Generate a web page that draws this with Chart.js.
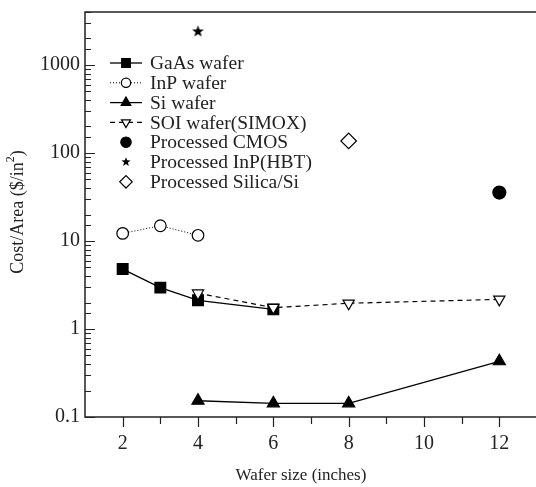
<!DOCTYPE html>
<html>
<head>
<meta charset="utf-8">
<script src="https://cdn.jsdelivr.net/npm/chart.js"></script>
<style>
  html, body { margin: 0; padding: 0; background: #fff; overflow: hidden; }
  #wrap { width: 546px; height: 487px; }
</style>
</head>
<body>
<div id="wrap"><canvas id="chart" width="546" height="487"></canvas></div>
<script>
// wafer size (inches) and cost per area ($/in^2)
const gaasSizes = [2, 3, 4, 6];
const gaasCost = [4.8, 2.95, 2.12, 1.67];
const inpSizes = [2, 3, 4];
const inpCost = [12.2, 14.9, 11.6];
const siSizes = [4, 6, 8, 12];
const siCost = [0.153, 0.143, 0.143, 0.43];
const soiSizes = [4, 6, 8, 12];
const soiCost = [2.55, 1.75, 1.96, 2.17];
const cmosSizes = [12];
const cmosCost = [35.5];
const hbtSizes = [4];
const hbtCost = [2400];
const silicaSizes = [8];
const silicaCost = [137];

const xTickLabels = [2, 4, 6, 8, 10, 12];
const yTickLabels = [0.1, 1, 10, 100, 1000];

const FONT = '"Liberation Serif", "DejaVu Serif", serif';
const INK = '#222';

const pts = (xs, ys) => xs.map((x, i) => ({ x: x, y: ys[i] }));

function makeStar(r) {
  const c = document.createElement('canvas');
  const s = Math.ceil(r * 2) + 2;
  c.width = c.height = s;
  const g = c.getContext('2d');
  g.fillStyle = '#000';
  g.beginPath();
  for (let i = 0; i < 10; i++) {
    const rr = i % 2 ? r * 0.42 : r;
    const a = -Math.PI / 2 + i * Math.PI / 5;
    g.lineTo(s / 2 + rr * Math.cos(a), s / 2 + rr * Math.sin(a));
  }
  g.closePath();
  g.fill();
  return c;
}
const star = makeStar(6.2);
const smallStar = makeStar(4.8);

const datasets = [
  { label: 'GaAs wafer', data: pts(gaasSizes, gaasCost), borderWidth: 1.3,
    pointStyle: 'rect', pointRadius: 7.6, pointBackgroundColor: '#000', order: 2 },
  { label: 'InP wafer', data: pts(inpSizes, inpCost), borderWidth: 1, borderDash: [1, 2],
    pointStyle: 'circle', pointRadius: 5.8, pointBackgroundColor: '#fff', order: 2 },
  { label: 'Si wafer', data: pts(siSizes, siCost), borderWidth: 1.3,
    pointStyle: 'triangle', pointRadius: 7, pointBackgroundColor: '#000', order: 2 },
  { label: 'SOI wafer(SIMOX)', data: pts(soiSizes, soiCost), borderWidth: 1.2, borderDash: [5, 4],
    pointStyle: 'triangle', pointRotation: 180, pointRadius: 6.5, pointBackgroundColor: '#fff', order: 1 },
  { label: 'Processed CMOS', data: pts(cmosSizes, cmosCost), showLine: false,
    pointStyle: 'circle', pointRadius: 6.5, pointBackgroundColor: '#000', order: 1 },
  { label: 'Processed InP(HBT)', data: pts(hbtSizes, hbtCost), showLine: false,
    pointStyle: star, pointRadius: 6, pointBackgroundColor: '#000', order: 1 },
  { label: 'Processed Silica/Si', data: pts(silicaSizes, silicaCost), showLine: false,
    pointStyle: 'rectRot', pointRadius: 7.8, pointBackgroundColor: '#fff', order: 1 }
].map(d => Object.assign({
  type: 'line', tension: 0, fill: false, borderColor: '#000',
  pointBorderColor: '#000', pointBorderWidth: 1.2, pointHoverRadius: d.pointRadius
}, d));

// legend markers are drawn a bit smaller than the plotted ones
function drawMarker(ctx, ds, x, y, k) {
  const r = ds.pointRadius * k;
  let st = ds.pointStyle;
  if (st instanceof HTMLCanvasElement) {
    st = smallStar;
    ctx.drawImage(st, x - st.width / 2, y - st.height / 2);
    return;
  }
  ctx.lineWidth = ds.pointBorderWidth;
  ctx.strokeStyle = '#000';
  ctx.fillStyle = ds.pointBackgroundColor;
  ctx.beginPath();
  if (st === 'rect') {
    const s = r * Math.SQRT1_2;
    ctx.rect(x - s, y - s, 2 * s, 2 * s);
  } else if (st === 'circle') {
    ctx.arc(x, y, r, 0, 2 * Math.PI);
  } else if (st === 'rectRot') {
    ctx.moveTo(x, y - r); ctx.lineTo(x + r, y); ctx.lineTo(x, y + r); ctx.lineTo(x - r, y);
    ctx.closePath();
  } else if (st === 'triangle') {
    const rot = (ds.pointRotation || 0) * Math.PI / 180;
    for (let j = 0; j < 3; j++) {
      const a = rot + j * 2 * Math.PI / 3;
      ctx.lineTo(x + Math.sin(a) * r, y - Math.cos(a) * r);
    }
    ctx.closePath();
  }
  ctx.fill();
  ctx.stroke();
}

const legendPlugin = {
  id: 'sketchLegend',
  afterDraw(chart) {
    const ctx = chart.ctx;
    const a = chart.chartArea;
    datasets.forEach((ds, i) => {
      const y = a.top + 51 + i * 19.8;
      const xl = a.left + 25;
      ctx.save();
      if (ds.showLine !== false) {
        ctx.strokeStyle = '#000';
        ctx.lineWidth = ds.borderWidth;
        ctx.setLineDash(ds.borderDash || []);
        ctx.beginPath();
        ctx.moveTo(xl, y); ctx.lineTo(xl + 32, y);
        ctx.stroke();
        ctx.setLineDash([]);
      }
      drawMarker(ctx, ds, xl + 16, y, 0.8);
      ctx.fillStyle = INK;
      ctx.font = '19.5px ' + FONT;
      ctx.textBaseline = 'middle';
      ctx.textAlign = 'left';
      ctx.fillText(ds.label, xl + 40, y + 1);
      ctx.restore();
    });
  }
};

const framePlugin = {
  id: 'frame',
  afterDraw(chart) {
    const { ctx, chartArea: a, scales: { x, y } } = chart;
    ctx.save();
    ctx.strokeStyle = INK;
    ctx.lineWidth = 1.5;
    ctx.beginPath();
    ctx.moveTo(chart.width, a.top); ctx.lineTo(a.left, a.top);
    ctx.lineTo(a.left, a.bottom); ctx.lineTo(chart.width, a.bottom);
    ctx.stroke();
    ctx.lineWidth = 1.2;
    ctx.beginPath();
    y.ticks.forEach(t => {
      const lg = Math.log10(t.value);
      const major = Math.abs(lg - Math.round(lg)) < 1e-6;
      const p = Math.round(y.getPixelForValue(t.value)) + 0.5;
      ctx.moveTo(a.left, p); ctx.lineTo(a.left + (major ? 10 : 6), p);
    });
    x.ticks.forEach(t => {
      if (t.value <= x.min || t.value >= x.max) return;
      const p = Math.round(x.getPixelForValue(t.value)) + 0.5;
      ctx.moveTo(p, a.bottom); ctx.lineTo(p, a.bottom + (t.value % 2 === 0 ? 10 : 7));
    });
    ctx.stroke();

    ctx.fillStyle = INK;
    ctx.font = '17px ' + FONT;
    ctx.textAlign = 'center';
    ctx.textBaseline = 'middle';
    ctx.fillText('Wafer size (inches)', 301, 476);

    // y title with a raised "2"
    ctx.translate(18, 212);
    ctx.rotate(-Math.PI / 2);
    const f = '18px ' + FONT, fs = '12px ' + FONT;
    const p1 = 'Cost/Area ($/in', p2 = '2', p3 = ')';
    ctx.font = f; const w1 = ctx.measureText(p1).width, w3 = ctx.measureText(p3).width;
    ctx.font = fs; const w2 = ctx.measureText(p2).width;
    let cx = -(w1 + w2 + w3) / 2;
    ctx.textAlign = 'left';
    ctx.font = f; ctx.fillText(p1, cx, 0); cx += w1;
    ctx.font = fs; ctx.fillText(p2, cx, -7); cx += w2;
    ctx.font = f; ctx.fillText(p3, cx, 0);
    ctx.restore();
  }
};

function zeroPad(s) {
  s.paddingTop = 0; s.paddingBottom = 0; s.paddingLeft = 0; s.paddingRight = 0;
}

new Chart(document.getElementById('chart'), {
  type: 'line',
  data: { datasets: datasets },
  options: {
    responsive: false,
    animation: false,
    clip: false,
    layout: { padding: { top: 12, right: 1, left: 0, bottom: 0 } },
    plugins: { legend: { display: false }, tooltip: { enabled: false }, title: { display: false } },
    scales: {
      x: {
        type: 'linear', min: 1, max: 13,
        grid: { display: false, drawTicks: false },
        border: { display: false },
        afterFit: s => { s.height = 70; zeroPad(s); },
        ticks: {
          stepSize: 1, autoSkip: false, maxRotation: 0, padding: 15, color: INK,
          font: { family: FONT, size: 20 },
          callback: v => xTickLabels.includes(v) ? String(v) : ''
        }
      },
      y: {
        type: 'logarithmic', min: 0.1, max: 4000,
        grid: { display: false, drawTicks: false },
        border: { display: false },
        afterFit: s => { s.width = 85; zeroPad(s); },
        ticks: {
          autoSkip: false, padding: 5, color: INK,
          font: { family: FONT, size: 20 },
          callback: v => {
            const hit = yTickLabels.find(l => Math.abs(l - v) < l * 1e-6);
            return hit === undefined ? '' : String(hit);
          }
        }
      }
    }
  },
  plugins: [framePlugin, legendPlugin]
});
</script>
</body>
</html>
